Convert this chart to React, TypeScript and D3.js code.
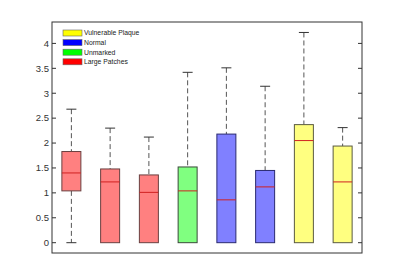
import React from "react";
import * as d3 from "d3";

const groups = [1, 2, 3, 4, 5, 6, 7, 8];
const upperWhisker = [2.68, 2.3, 2.12, 3.42, 3.51, 3.14, 4.22, 2.31];
const q3 = [1.83, 1.48, 1.36, 1.52, 2.18, 1.45, 2.37, 1.94];
const median = [1.4, 1.22, 1.01, 1.04, 0.86, 1.12, 2.05, 1.22];
const q1 = [1.04, 0, 0, 0, 0, 0, 0, 0];
const lowerWhisker = [0, 0, 0, 0, 0, 0, 0, 0];
const category = ["Large Patches", "Large Patches", "Large Patches", "Unmarked", "Normal", "Normal", "Vulnerable Plaque", "Vulnerable Plaque"];
const yTicks = [0, 0.5, 1, 1.5, 2, 2.5, 3, 3.5, 4];
const legendLabels = ["Vulnerable Plaque", "Normal", "Unmarked", "Large Patches"];
const legendColors = ["#ffff00", "#0000ff", "#00ff00", "#ff0000"];

const fillOf: Record<string, string> = {
  "Large Patches": "#ff8080",
  Unmarked: "#80ff80",
  Normal: "#8080ff",
  "Vulnerable Plaque": "#ffff80",
};
const edgeOf: Record<string, string> = {
  "Large Patches": "#6a4040",
  Unmarked: "#3a4a3a",
  Normal: "#2a2a70",
  "Vulnerable Plaque": "#5a5a40",
};

export default function App() {
  const L = 52, R = 362, T = 22, B = 253;
  const x = d3.scaleLinear().domain([0.5, 8.5]).range([L, R]);
  const y = d3.scaleLinear().domain([-0.207, 4.43]).range([B, T]);
  const bw = 19;
  const cap = 10;
  return (
    <svg width={400} height={256} style={{ position: "absolute", left: 0, top: 0, background: "#fff" }}
      fontFamily="Arial, 'Liberation Sans', sans-serif">
      <rect x={L} y={T} width={R - L} height={B - T} fill="#fff" stroke="#333" strokeWidth={1} />
      {yTicks.map((t) => (
        <g key={t}>
          <line x1={L} x2={L + 4} y1={y(t)} y2={y(t)} stroke="#333" />
          <line x1={R - 4} x2={R} y1={y(t)} y2={y(t)} stroke="#333" />
          <text x={L - 3} y={y(t)} dy="0.35em" textAnchor="end" fontSize={9.5} fill="#333">{t}</text>
        </g>
      ))}
      {groups.map((g, i) => {
        const cx = x(g);
        const cat = category[i];
        return (
          <g key={g}>
            <line x1={cx} x2={cx} y1={y(upperWhisker[i])} y2={y(q3[i])} stroke="#555" strokeDasharray="5,3" />
            <line x1={cx} x2={cx} y1={y(q1[i])} y2={y(lowerWhisker[i])} stroke="#555" strokeDasharray="5,3" />
            <line x1={cx - cap / 2} x2={cx + cap / 2} y1={y(upperWhisker[i])} y2={y(upperWhisker[i])} stroke="#333" />
            {q1[i] > lowerWhisker[i] && (
              <line x1={cx - cap / 2} x2={cx + cap / 2} y1={y(lowerWhisker[i])} y2={y(lowerWhisker[i])} stroke="#333" />
            )}
            <rect x={cx - bw / 2} y={y(q3[i])} width={bw} height={y(q1[i]) - y(q3[i])}
              fill={fillOf[cat]} stroke={edgeOf[cat]} strokeWidth={1} />
            <line x1={cx - bw / 2} x2={cx + bw / 2} y1={y(median[i])} y2={y(median[i])} stroke="#d02020" strokeWidth={1} />
          </g>
        );
      })}
      {legendLabels.map((lab, i) => (
        <g key={lab}>
          <rect x={63} y={30 + i * 9.6} width={19} height={6} fill={legendColors[i]} stroke="#666" strokeWidth={0.6} />
          <text x={84} y={33 + i * 9.6} dy="0.35em" fontSize={6.8} fill="#222">{lab}</text>
        </g>
      ))}
    </svg>
  );
}
